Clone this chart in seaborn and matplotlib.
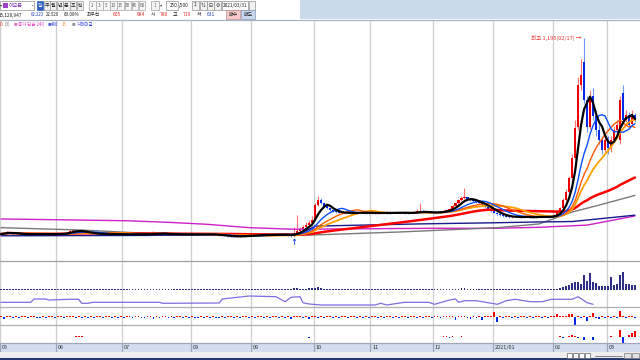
import numpy as np
import pandas as pd
import matplotlib
matplotlib.use("Agg")
import matplotlib.pyplot as plt
from matplotlib.patches import Rectangle
from matplotlib.lines import Line2D
import seaborn as sns

sns.set_theme(style="white")
plt.rcParams['font.family'] = ['Noto Sans CJK KR', 'DejaVu Sans']

# ---------------- data ----------------
month_labels = ["05", "06", "07", "08", "09", "10", "11", "12", "2021/01", "02", "03"]
month_days = [19, 22, 23, 20, 21, 19, 21, 20, 20, 18, 10]

close_prices = (
    [205,208,215,212,207,205,203,204,206,205,204,203,205,206,204,203,205,204,206] +
    [205,206,208,212,220,225,222,218,215,213,210,208,207,205,204,206,205,203,204,205,204,203] +
    [203,204,202,203,205,204,203,202,204,203,212,206,205,207,206,204,203,202,203,204,203,202,203] +
    [203,204,203,202,203,204,203,202,200,198,196,195,194,193,192,193,194,195,196,197] +
    [198,199,200,201,200,199,200,201,202,203,201,200,199,197,210,220,228,240,252,262,278] +
    [350,375,360,345,335,325,318,315,312,310,312,313,311,310,312,314,313,312,311] +
    [312,310,311,312,313,311,310,312,314,313,312,311,310,312,315,318,320,316,314,312,313] +
    [313,315,318,322,326,330,345,360,375,385,390,380,375,370,365,360,350,340,330,320] +
    [312,305,300,296,292,290,291,293,292,290,291,292,290,289,291,292,293,292,291,292] +
    [301,316,336,377,417,488,589,740,958,1008,882,745,900,800,730,680,629,680] +
    [639,680,730,756,882,781,806,756,806,781]
)
open_prices = (
    [203,205,209,214,211,207,205,203,204,206,205,204,203,205,206,204,203,205,204] +
    [206,205,206,208,212,219,226,221,218,215,213,210,208,207,205,204,206,205,203,204,205,204] +
    [203,203,204,202,203,205,204,203,202,204,204,211,206,205,207,206,204,203,202,203,204,203,202] +
    [203,203,204,203,202,203,204,203,202,200,198,196,195,194,193,192,193,194,195,196] +
    [197,198,199,200,201,200,199,200,201,202,203,201,200,199,198,210,220,228,240,252,262] +
    [280,350,378,362,345,336,326,318,315,312,310,312,313,311,310,312,314,313,312] +
    [311,312,310,311,312,313,311,310,312,314,313,312,311,310,312,315,318,320,316,314,312] +
    [313,313,315,318,322,326,330,345,360,375,385,390,380,375,370,365,360,350,340,330] +
    [320,312,305,300,296,292,290,291,293,292,290,291,292,290,289,291,292,293,292,291] +
    [295,301,316,336,377,417,488,589,745,958,1073,882,745,900,800,730,680,629] +
    [680,640,680,730,680,917,781,806,760,806]
)
high_prices = (
    [207,210,222,216,213,208,206,206,208,207,206,205,207,208,207,205,207,206,208] +
    [208,208,210,215,226,232,229,224,219,216,214,211,209,208,207,208,207,206,206,207,206,205] +
    [205,206,205,204,206,206,205,204,205,205,222,213,208,208,209,207,205,204,205,206,205,204,205] +
    [205,206,205,204,205,206,205,204,203,201,199,197,196,195,194,195,196,197,198,199] +
    [200,201,202,203,202,201,202,203,204,205,204,203,201,200,240,300,238,250,265,275,295] +
    [360,395,385,366,350,338,330,322,318,316,316,317,315,314,316,318,317,316,315] +
    [315,314,314,315,316,315,314,316,318,317,316,315,314,316,320,330,360,324,318,316,316] +
    [316,318,322,326,330,335,352,368,382,395,435,392,382,376,372,368,362,352,342,332] +
    [324,316,309,303,299,295,294,296,295,294,294,295,293,292,294,295,296,295,294,295] +
    [305,320,342,385,430,500,610,780,1000,1090,1195,900,930,940,830,760,700,690] +
    [700,700,750,780,900,960,830,820,830,815]
)
low_prices = (
    [201,203,207,209,205,203,201,202,203,203,202,201,202,203,202,201,202,202,203] +
    [203,203,205,207,211,217,220,216,213,211,208,206,205,203,202,203,203,201,202,203,202,201] +
    [201,202,200,201,202,202,201,200,201,201,202,204,203,203,204,202,201,200,201,202,201,200,201] +
    [201,202,201,200,201,202,201,200,198,196,194,193,192,191,190,191,192,193,194,195] +
    [196,197,198,199,198,197,198,199,200,201,199,198,197,192,190,208,218,226,238,250,260] +
    [278,345,355,340,332,322,315,311,309,307,308,309,308,307,308,310,309,308,307] +
    [308,307,308,309,310,308,307,309,311,310,309,308,307,309,311,313,315,312,310,309,310] +
    [310,311,313,316,320,324,328,342,355,370,380,375,370,365,360,355,345,335,325,315] +
    [310,302,297,293,289,287,288,290,289,287,288,289,287,286,288,289,290,289,288,289] +
    [292,298,312,330,370,410,480,580,730,930,860,720,735,780,700,660,610,620] +
    [610,620,670,720,660,760,770,740,750,770]
)
volume = (
    [0.8,1.0,1.5,1.0,0.8,0.7,0.7,0.8,0.7,0.7,0.6,0.7,0.7,0.6,0.7,0.6,0.7,0.7,0.6] +
    [0.7,0.7,0.8,1.0,1.3,1.5,1.2,1.0,0.8,0.8,0.7,0.7,0.6,0.6,0.7,0.6,0.6,0.6,0.6,0.6,0.6,0.6] +
    [0.6,0.6,0.6,0.6,0.6,0.6,0.6,0.6,0.6,0.6,1.2,0.8,0.6,0.6,0.6,0.6,0.6,0.6,0.6,0.6,0.6,0.6,0.6] +
    [0.6,0.6,0.6,0.6,0.6,0.6,0.6,0.6,0.6,0.6,0.6,0.6,0.6,0.6,0.6,0.6,0.6,0.6,0.6,0.6] +
    [0.6,0.6,0.6,0.6,0.6,0.6,0.6,0.6,0.6,0.6,0.6,0.6,0.6,0.8,2.5,2.0,1.2,1.2,1.5,2.0,2.5] +
    [2.5,2.8,1.8,1.3,1.0,0.9,0.8,0.7,0.7,0.7,0.6,0.6,0.6,0.6,0.6,0.6,0.6,0.6,0.6] +
    [0.8,0.7,0.6,0.6,0.6,0.6,0.6,0.6,0.6,0.6,0.6,0.6,0.6,0.6,0.7,0.9,1.5,0.8,0.7,0.6,0.6] +
    [0.6,0.6,0.6,0.7,0.8,0.9,1.0,1.3,1.5,1.8,2.2,1.3,1.0,0.8,0.8,0.7,0.7,0.6,0.6,0.6] +
    [0.8,0.7,0.6,0.6,0.6,0.6,0.6,0.6,0.6,0.6,0.6,0.6,0.6,0.6,0.6,0.6,0.6,0.6,0.6,0.6] +
    [0.8,1.0,2.0,3.0,4.0,5.0,7.0,8.0,8.0,6.0,15.0,9.0,17.0,8.0,7.0,4.0,4.0,4.0] +
    [4.0,13.0,5.0,6.0,15.0,18.0,6.0,6.0,5.0,5.0]
)
indicator1 = (
    [1,-1.7,1,1,-1,1,-1,1,1,-1,1,1,-1,-1,1,-1,1,1,-1] +
    [1,1,-1,1,1,1,-1,1,-1,1,-1,1,-1,1,1,-1,1,1,-1,1,-1,1] +
    [-1,1,1,-1,1,1,-1,-1,1,1,-1.5,1,-1,1,1,-1,1,-1,1,1,-1,1,-1] +
    [1,-1,-1,1,-1,1,-1,1,-1,-1,1,-1,1,1,-1,1,-1,1,1,-1] +
    [1,-1,1,1,-1,1,-1,1,1,-1,1,-1,1,-1.5,1.2,1,1,-1,1,-1.5,1] +
    [1,-1,1,-1,1,1,-1,1,-1,1,1,-1,1,1,-1,1,-1,1,-1] +
    [1.2,1,-1,1,-1,1,1,-1,1,-1,1.5,1,-1,1,1,-1,1,-1,1,1,-1] +
    [1,1,-1,1,1.2,1,1,-3.0,1,1,1,-1,-2.0,1,-1,1,-2.5,1,1,1] +
    [5.5,-4.3,1,-1,1,1,-1,1,-1,1,1,-1,1,-1,1,1,-1,1,-1,1] +
    [1,3.0,1,1.5,1,3.0,3.0,-7.5,1.0,-1,1,-4.0,1,4.7,-1,-1.5,1,-1.0] +
    [1,-1.0,1,-1,6.7,1.0,-1,1.0,1,-1.0]
)
indicator2_days = [2,25,26,27,99,101,103,113,114,123,124,128,129,140,141,148,149,150,151,154,
                   159,163,187,188,190,191,192,193,195,198,204,207,208,210,211,212]
indicator2_vals = [0.5,0.7,0.7,0.7,0.5,0.5,-0.5,0.5,0.5,0.5,0.5,0.5,0.5,0.4,0.4,0.6,0.6,-0.6,0.6,0.6,
                   0.4,0.4,0.6,-0.6,1.5,2.5,1.0,-0.6,-3,-3,0.6,7,-6,2,4,6]
purple_days = [0,10,11,15,16,23,26,27,29,31,53,54,73,74,83,92,95,97,100,101,
               103,107,125,127,129,135,143,145,150,152,153,155,159,166,169,172,177,181,184,191,
               193,196,198]
purple_vals = [4.7,4.7,8,8,7,7.7,7.7,3.7,3.7,4.7,4.7,3.7,4,8,11,10.3,5.3,9.7,10.3,4.3,
               3,2,2,3.7,2,4.7,4.7,2.7,7,8,4.7,6.3,6.3,2.7,6.3,7.7,5.3,5.3,7.7,7.7,
               10.3,4.3,2.7]
ma120_days = [0,27,44,67,87,104,133,166,180,191,200,212]
ma120_vals = [237,225,212,205,198,200,215,237,256,316,351,400]
navy_days = [0,50,100,105,140,166,180,191,212]
navy_vals = [196,198,205,245,256,262,266,268,300]
ma240_days = [0,42,56,69,83,98,146,166,180,196,212]
ma240_vals = [281,272,264,254,237,229,234,234,239,250,296]

# ---------------- frame ----------------
df = pd.DataFrame({"open": open_prices, "high": high_prices, "low": low_prices,
                   "close": close_prices, "volume": volume, "ind1": indicator1})
df["day"] = np.arange(len(df))
month_start = np.concatenate([[0], np.cumsum(month_days)[:-1]])

W, H = 640, 360
fig = plt.figure(figsize=(6.4, 3.6), dpi=100)
fig.patch.set_facecolor("white")

def rect(y0, y1, x0=0, x1=W):
    return [x0 / W, 1 - y1 / H, (x1 - x0) / W, (y1 - y0) / H]

XL = (-0.33, 213.7)
GRID = "#CFCFCF"

def prep(a, ylim):
    a.set_xlim(*XL)
    a.set_ylim(*ylim)
    a.set_xticks([]); a.set_yticks([])
    for s in a.spines.values():
        s.set_visible(False)
    a.set_facecolor("white")
    for m in month_start:
        a.axvline(m - 0.45, color=GRID, lw=0.9, zorder=0)

# main price axis
ax = fig.add_axes(rect(20, 261))
prep(ax, (68.7, 1285.75))

up = df["close"] >= df["open"]
body_col = np.where(up, "#F00000", "#0028E8")
wick_col = np.where(up, "#FF7070", "#6C96F0")
ax.vlines(df["day"], df["low"], df["high"], colors=wick_col, lw=0.8, zorder=2)
bottom = np.minimum(df["open"], df["close"])
height = np.maximum(np.abs(df["close"] - df["open"]), 4)
ax.bar(df["day"], height, bottom=bottom, width=0.72, color=body_col, linewidth=0, zorder=3)

long_lines = [
    (ma240_days, ma240_vals, "#D020C8", 1.0),
    (ma120_days, ma120_vals, "#7A7A7A", 1.0),
    (navy_days, navy_vals, "#1A1A8C", 1.0),
]
for dd, vv, c, lw in long_lines:
    sns.lineplot(x=dd, y=vv, ax=ax, color=c, lw=lw, estimator=None, sort=False, zorder=4)

ma_specs = [(60, "#FF0000", 1.8), (20, "#FFA000", 1.3), (15, "#FF5A00", 1.0),
            (10, "#0A50FF", 1.0), (5, "#000000", 1.6)]
for w, c, lw in ma_specs:
    ma = df["close"].rolling(w, min_periods=1).mean()
    sns.lineplot(x=df["day"], y=ma, ax=ax, color=c, lw=lw, estimator=None, zorder=5)

peak = int(np.argmax(df["high"]))
ax.text(peak - 0.8, df["high"][peak], "최고 1,195(02/17) →", color="#F03030",
        fontsize=4.0, ha="right", va="center", zorder=6)
low_mark = 98
ax.text(low_mark, 165, "↑", color="#0030E0", fontsize=5, ha="center", va="center",
        fontweight="bold", zorder=6)

# volume + line panel
axv = fig.add_axes(rect(261, 307))
prep(axv, (-17, 29))
axv.bar(df["day"], df["volume"], width=0.62, color="#2E2E86", linewidth=0, zorder=3)
axp = axv.twinx()
axp.set_ylim(0, 46); axp.set_xlim(*XL)
axp.set_yticks([]); axp.set_xticks([])
for s in axp.spines.values():
    s.set_visible(False)
sns.lineplot(x=purple_days, y=purple_vals, ax=axp, color="#7B6FE0", lw=0.9,
             estimator=None, sort=False)

# indicator 1
ax1 = fig.add_axes(rect(307, 325))
prep(ax1, (-7.7, 10.3))
ind1 = df["ind1"]
ax1.bar(df["day"], ind1, width=0.62, color=np.where(ind1 >= 0, "#F00000", "#0028E8"),
        linewidth=0, zorder=3)

# indicator 2
ax2 = fig.add_axes(rect(325, 343))
prep(ax2, (-6, 12))
i2 = np.array(indicator2_vals)
ax2.bar(indicator2_days, i2, width=0.62, color=np.where(i2 >= 0, "#F00000", "#0028E8"),
        linewidth=0, zorder=3)

for a in (ax, axv, axp, ax1, ax2):
    a.set_xlabel(""); a.set_ylabel("")

# date strip
axs = fig.add_axes(rect(343, 352))
axs.set_xlim(*XL); axs.set_ylim(0, 1)
axs.set_xticks([]); axs.set_yticks([])
for s in axs.spines.values():
    s.set_visible(False)
axs.set_facecolor("#D3DFEF")
for m, lab in zip(month_start, month_labels):
    axs.axvline(m - 0.45, color="#9AA6B8", lw=0.9)
    axs.text(m + 0.1, 0.45, lab, fontsize=4.0, color="#303030", va="center", ha="left")

# separators
for yy, c in [(19.5, "#A8B4C4"), (261, "#A0A0A0"), (307, "#B0B0B0"), (325, "#B0B0B0"), (343, "#A0A8B8")]:
    fig.add_artist(Line2D([0, 1], [1 - yy / H, 1 - yy / H], color=c, lw=0.9))

def frect(x0, y0, x1, y1, fc, ec="none", lw=0.6, z=1):
    fig.add_artist(Rectangle((x0 / W, 1 - y1 / H), (x1 - x0) / W, (y1 - y0) / H,
                             facecolor=fc, edgecolor=ec, lw=lw, zorder=z))

def ftext(x, y, s, color="#202020", size=4.0, ha="left", weight="normal"):
    fig.text(x / W, 1 - y / H, s, color=color, fontsize=size, ha=ha, va="center",
             fontweight=weight, zorder=5)

# bottom bar
frect(0, 352, 640, 358, "#EEEEEE")
frect(0, 358, 640, 360, "#223A6E")
for x0 in (567, 573, 579, 585):
    frect(x0, 353.2, x0 + 5, 357.5, "#FFFFFF", "#606060", 0.5, 3)
fig.add_artist(Line2D([595 / W, 622 / W], [1 - 355.5 / H] * 2, color="#808080", lw=0.7))
frect(624, 353.2, 631, 357.5, "#E0E0E0", "#808080", 0.5, 3)
frect(632, 353.2, 639, 357.5, "#E0E0E0", "#808080", 0.5, 3)

# header
frect(0, 0, 640, 19.5, "#FFFFFF")
frect(300, 0, 640, 18.5, "#CBD9EC")
frect(0, 1, 34, 9.5, "#FFFFFF", "#909090", 0.5, 3)
frect(3, 2.5, 7.5, 8, "#A040C8", z=4)
ftext(0.0, 5.5, "▾", "#404040", 3.0)
ftext(8.5, 5.5, "이모픈", "#8030B0", 3.6)
ftext(30, 5.5, "⌄", "#404040", 3.0)
tabs = ["일", "주", "월", "년", "분", "초", "틱"]
for i, t in enumerate(tabs):
    x0 = 37 + i * 6.6
    if i == 0:
        frect(x0, 1, x0 + 6.2, 9.5, "#2F62C0", "#2F62C0", 0.5, 3)
        ftext(x0 + 3.1, 5.4, t, "#FFFFFF", 3.6, "center")
    else:
        frect(x0, 1, x0 + 6.2, 9.5, "#F2F2F2", "#9A9A9A", 0.5, 3)
        ftext(x0 + 3.1, 5.4, t, "#202020", 3.6, "center")
nums = ["1", "3", "5", "10", "15", "30", "45", "60"]
for i, t in enumerate(nums):
    x0 = 89 + i * 7.1
    frect(x0, 1, x0 + 6.6, 9.5, "#F7F7F7", "#A8A8A8", 0.5, 3)
    ftext(x0 + 3.3, 5.4, t, "#606060", 3.4, "center")
frect(151, 1, 159, 9.5, "#F2F2F2", "#A0A0A0", 0.5, 3)
ftext(155, 5.4, "1", "#808080", 3.4, "center")
ftext(159.8, 5.4, "▾", "#404040", 3.0)
frect(166, 1, 178, 9.5, "#FFFFFF", "#909090", 0.5, 3)
ftext(177.5, 5.4, "250", "#202020", 3.4, "right")
ftext(178.5, 5.4, "/500", "#202020", 3.4)
for x0, t in [(192, "↕"), (200, "⇅"), (207, "⊟"), (214, "⚙")]:
    frect(x0, 1, x0 + 6.5, 9.5, "#F2F2F2", "#909090", 0.5, 3)
    ftext(x0 + 3.2, 5.4, t, "#202020", 3.4, "center")
frect(222, 1, 248, 9.5, "#FFFFFF", "#909090", 0.5, 3)
ftext(235, 5.4, "2021/03/31", "#202020", 3.4, "center")
frect(248.5, 1, 255, 9.5, "#F2F2F2", "#909090", 0.5, 3)

ftext(-1, 15, "15,128,947", "#202020", 3.4)
ftext(30.5, 15, "62.223", "#2040C0", 3.1)
ftext(46, 15, "22.520", "#202020", 3.1)
ftext(64, 15, "83.08%", "#202020", 3.3)
ftext(87, 15, "최우선", "#202020", 3.4)
ftext(113, 15, "605", "#E03030", 3.6)
ftext(137, 15, "684", "#E03030", 3.6)
ftext(151, 15, "시", "#202020", 3.6)
ftext(160, 15, "780", "#E03030", 3.6)
ftext(173, 15, "고", "#202020", 3.6)
ftext(183, 15, "719", "#E03030", 3.6)
ftext(197, 15, "저", "#202020", 3.6)
ftext(207, 15, "631", "#2040C0", 3.6)
frect(226, 10.5, 240, 18.5, "#F6C8C8", "#C09090", 0.5, 3)
ftext(233, 14.6, "매수", "#202020", 3.6, "center")
frect(241, 10.5, 255, 18.5, "#C8D8F0", "#8898B8", 0.5, 3)
ftext(248, 14.6, "매도", "#202020", 3.6, "center")

# legend row
ftext(0, 24, "0", "#F02020", 3.4)
ftext(4.5, 24, "(3)", "#808080", 3.4)
ftext(14, 24, "■", "#E070C0", 2.6)
ftext(18.5, 24, "종가 단순 240", "#E040C0", 3.2)
ftext(47.5, 24, "■", "#5060E0", 2.6)
ftext(51, 24, "480", "#4050E0", 3.2)
ftext(62, 24, "15", "#F09020", 3.2)
ftext(72, 24, "■", "#909090", 2.6)
ftext(77, 24, "거래대금", "#3040E0", 3.2)

fig.savefig("out.png", dpi=100, facecolor="white")
